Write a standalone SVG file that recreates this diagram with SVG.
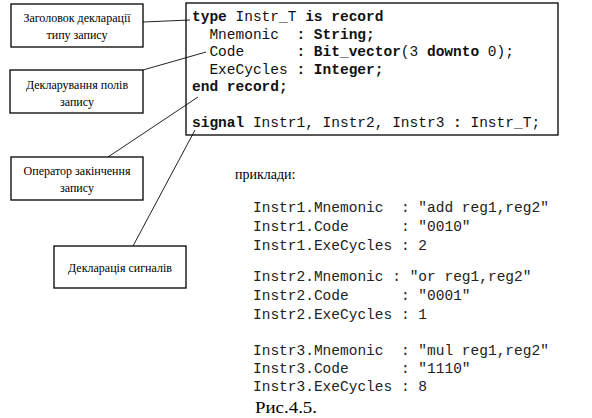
<svg xmlns="http://www.w3.org/2000/svg" width="592" height="418" viewBox="0 0 592 418">
<style>
.box{fill:#fff;stroke:#000;stroke-width:1.3}
.lbl{font-family:"Liberation Serif","Times New Roman",serif;font-size:12px;fill:#000;text-anchor:middle}
.code{font-family:"Liberation Mono","Courier New",monospace;font-size:14.5px;fill:#111;white-space:pre}
.ex{fill:#222}
.b{font-weight:bold}
.ser{font-family:"Liberation Serif","Times New Roman",serif;fill:#000}
.con{stroke:#222;stroke-width:1;fill:none}
</style>
<rect width="592" height="418" fill="#fff"/>
<g id="connectors">
<line class="con" x1="143" y1="22" x2="190" y2="20"/>
<line class="con" x1="143" y1="70" x2="206" y2="52"/>
<line class="con" x1="108" y1="157" x2="198" y2="97"/>
<line class="con" x1="133" y1="246" x2="195" y2="130"/>
</g>
<g id="code-block">
<rect x="186" y="3" width="372" height="132" fill="none" stroke="#000" stroke-width="1.3"/>
<text class="code" x="192" y="21" xml:space="preserve"><tspan class="b">type</tspan> Instr_T <tspan class="b">is record</tspan></text>
<text class="code" x="192" y="38.5" xml:space="preserve">  Mnemonic  <tspan class="b">: String;</tspan></text>
<text class="code" x="192" y="56" xml:space="preserve">  Code      <tspan class="b">: Bit_vector</tspan>(3 <tspan class="b">downto</tspan> 0);</text>
<text class="code" x="192" y="73.5" xml:space="preserve">  ExeCycles <tspan class="b">: Integer;</tspan></text>
<text class="code b" x="192" y="91" xml:space="preserve">end record;</text>
<text class="code" x="192" y="127" xml:space="preserve"><tspan class="b">signal</tspan> Instr1, Instr2, Instr3 <tspan class="b">:</tspan> Instr_T;</text>
</g>
<g id="node-header">
<rect class="box" x="11" y="4" width="132" height="43"/>
<text class="lbl" x="77" y="22">Заголовок декларації</text>
<text class="lbl" x="77" y="39">типу запису</text>
</g>
<g id="node-fields">
<rect class="box" x="10" y="70" width="133" height="43"/>
<text class="lbl" x="77" y="89">Декларування полів</text>
<text class="lbl" x="77" y="106">запису</text>
</g>
<g id="node-end">
<rect class="box" x="11" y="157" width="132" height="43"/>
<text class="lbl" x="77" y="175">Оператор закінчення</text>
<text class="lbl" x="77" y="192">запису</text>
</g>
<g id="node-signal">
<rect class="box" x="54" y="246" width="132" height="42"/>
<text class="lbl" x="120" y="272">Декларація сигналів</text>
</g>
<g id="examples">
<text class="ser" x="235" y="179" font-size="14">приклади:</text>
<text class="code ex" x="253" y="212" xml:space="preserve">Instr1.Mnemonic  : "add reg1,reg2"</text>
<text class="code ex" x="253" y="231" xml:space="preserve">Instr1.Code      : "0010"</text>
<text class="code ex" x="253" y="250" xml:space="preserve">Instr1.ExeCycles : 2</text>
<text class="code ex" x="253" y="281" xml:space="preserve">Instr2.Mnemonic : "or reg1,reg2"</text>
<text class="code ex" x="253" y="300" xml:space="preserve">Instr2.Code      : "0001"</text>
<text class="code ex" x="253" y="319" xml:space="preserve">Instr2.ExeCycles : 1</text>
<text class="code ex" x="253" y="355" xml:space="preserve">Instr3.Mnemonic  : "mul reg1,reg2"</text>
<text class="code ex" x="253" y="373" xml:space="preserve">Instr3.Code      : "1110"</text>
<text class="code ex" x="253" y="391" xml:space="preserve">Instr3.ExeCycles : 8</text>
<text class="ser" x="255" y="413" font-size="16" textLength="62" lengthAdjust="spacingAndGlyphs">Рис.4.5.</text>
</g>
</svg>
